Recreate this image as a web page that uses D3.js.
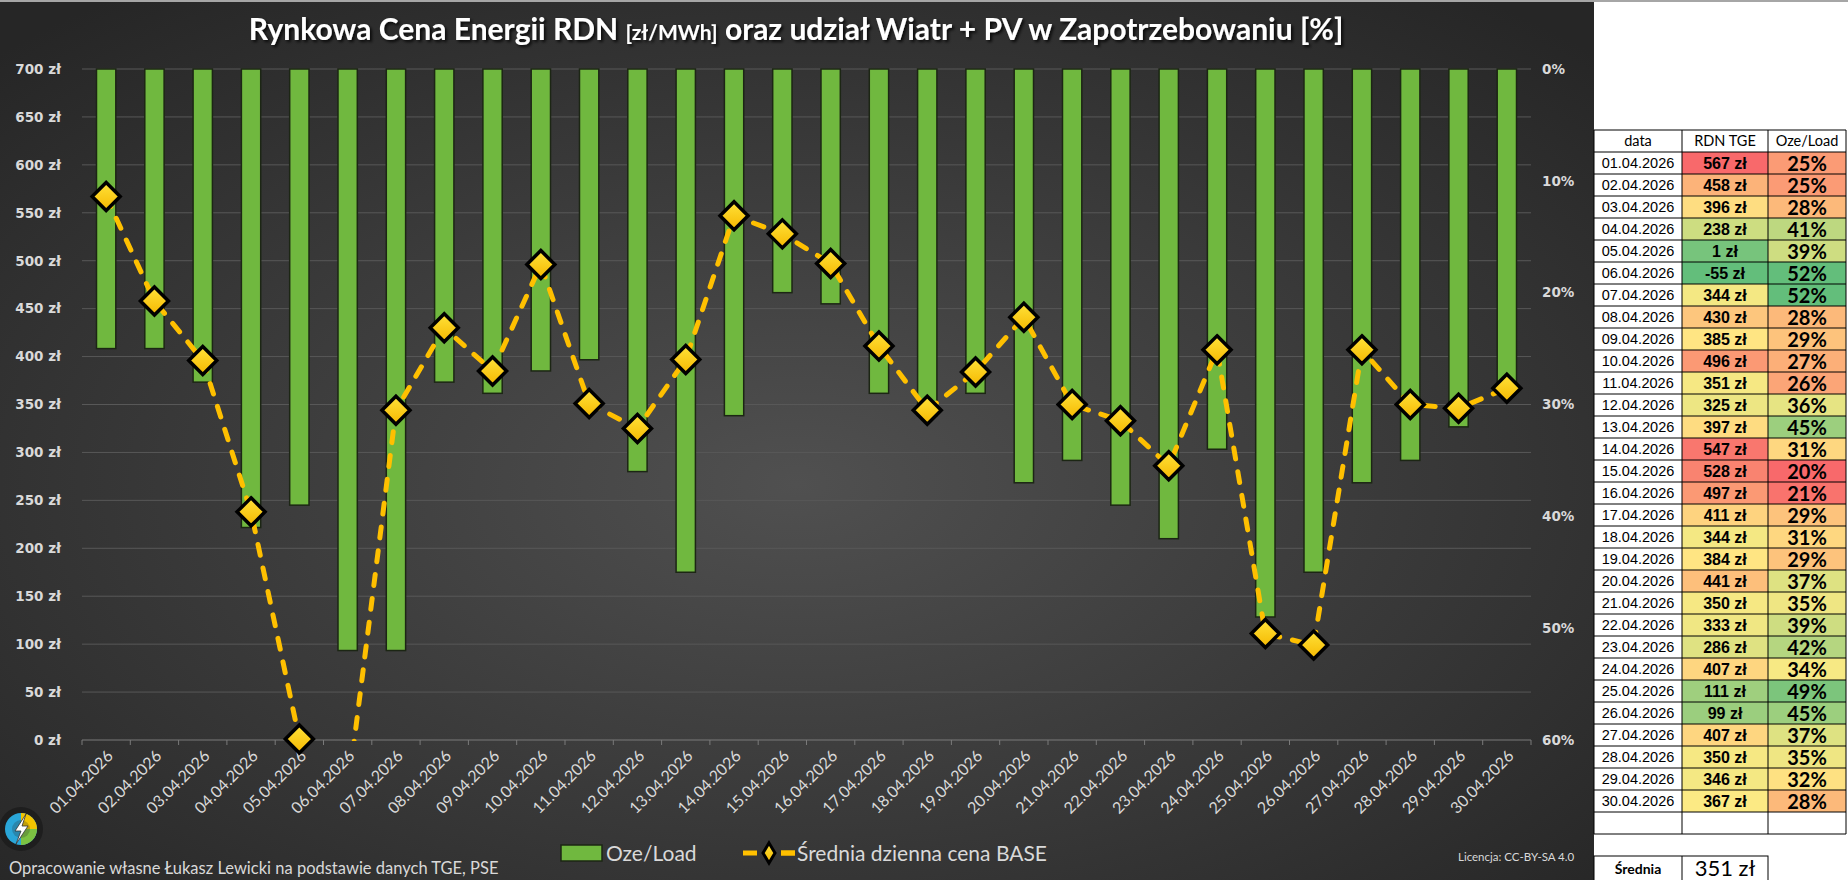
<!DOCTYPE html>
<html>
<head>
<meta charset="utf-8">
<script src="https://cdn.jsdelivr.net/npm/d3@7"></script>
<style>
  body { margin: 0; background: #fff; }
  svg { display: block; }
</style>
</head>
<body>
<div class="canva"></div>
<script>
// daily data, April 2026
const dates = ["01.04.2026","02.04.2026","03.04.2026","04.04.2026","05.04.2026","06.04.2026","07.04.2026","08.04.2026","09.04.2026","10.04.2026",
  "11.04.2026","12.04.2026","13.04.2026","14.04.2026","15.04.2026","16.04.2026","17.04.2026","18.04.2026","19.04.2026","20.04.2026",
  "21.04.2026","22.04.2026","23.04.2026","24.04.2026","25.04.2026","26.04.2026","27.04.2026","28.04.2026","29.04.2026","30.04.2026"];
const prices = [567, 458, 396, 238, 1, -55, 344, 430, 385, 496, 351, 325, 397, 547, 528, 497, 411, 344, 384, 441, 350, 333, 286, 407, 111, 99, 407, 350, 346, 367];
const ozeShare = [25, 25, 28, 41, 39, 52, 52, 28, 29, 27, 26, 36, 45, 31, 20, 21, 29, 31, 29, 37, 35, 39, 42, 34, 49, 45, 37, 35, 32, 28];
const priceTicks = [0, 50, 100, 150, 200, 250, 300, 350, 400, 450, 500, 550, 600, 650, 700];
const pctTicks = [0, 10, 20, 30, 40, 50, 60];

const W = 1848, H = 880;
const plot = {left: 82, right: 1531, top: 69, bottom: 740};

const svg = d3.select(".canva").append("svg")
    .attr("width", W)
    .attr("height", H);

const defs = svg.append("defs");
const bg = defs.append("radialGradient").attr("id", "bg")
    .attr("cx", "50%").attr("cy", "55%").attr("r", "70%");
bg.append("stop").attr("offset", "0%").attr("stop-color", "#505050");
bg.append("stop").attr("offset", "100%").attr("stop-color", "#262626");

const gold = defs.append("linearGradient").attr("id", "gold")
    .attr("x1", 0).attr("y1", 0).attr("x2", 0).attr("y2", 1);
gold.append("stop").attr("offset", "0%").attr("stop-color", "#ffe23a");
gold.append("stop").attr("offset", "100%").attr("stop-color", "#f5b800");

const shadow = defs.append("filter").attr("id", "shadow")
    .attr("x", "-10%").attr("y", "-30%").attr("width", "120%").attr("height", "160%");
shadow.append("feDropShadow").attr("dx", 2).attr("dy", 2).attr("stdDeviation", 1.5)
    .attr("flood-color", "#000").attr("flood-opacity", 0.8);

defs.append("clipPath").attr("id", "plotclip")
  .append("rect")
    .attr("x", plot.left - 20).attr("y", plot.top - 20)
    .attr("width", plot.right - plot.left + 40)
    .attr("height", plot.bottom - plot.top + 21);

// background of chart area
svg.append("rect").attr("x", 0).attr("y", 0).attr("width", 1594).attr("height", H).attr("fill", "url(#bg)");
svg.append("rect").attr("x", 0).attr("y", 0).attr("width", W).attr("height", 2).attr("fill", "#a6a6a6");

// scales
const x = d3.scaleBand()
    .domain(dates)
    .range([plot.left, plot.right])
    .paddingInner(0.6)
    .paddingOuter(0.3);
const y = d3.scaleLinear().domain([0, 700]).range([plot.bottom, plot.top]);
const y2 = d3.scaleLinear().domain([0, 60]).range([plot.top, plot.bottom]);

// gridlines
svg.append("g")
  .selectAll("line")
  .data(priceTicks)
  .join("line")
    .attr("x1", plot.left).attr("x2", plot.right)
    .attr("y1", d => y(d)).attr("y2", d => y(d))
    .attr("stroke", d => d === 0 ? "#7a7a7a" : "#585858")
    .attr("stroke-width", 1);

// bottom axis ticks at category boundaries
const bounds = d3.range(dates.length + 1).map(i => plot.left + i * x.step());
svg.append("g")
  .selectAll("line")
  .data(bounds)
  .join("line")
    .attr("x1", d => d).attr("x2", d => d)
    .attr("y1", plot.bottom).attr("y2", plot.bottom + 5)
    .attr("stroke", "#7a7a7a");

// left axis labels
const yAxis = svg.append("g")
    .attr("transform", `translate(${plot.left - 18},0)`)
    .call(d3.axisLeft(y).tickValues(priceTicks).tickSize(0).tickFormat(d => d + " zł"));
yAxis.select(".domain").remove();
yAxis.selectAll("text")
    .attr("fill", "#d9d9d9")
    .attr("font-family", "DejaVu Sans")
    .attr("font-weight", "bold")
    .attr("font-size", 13.5);

// right axis labels
const y2Axis = svg.append("g")
    .attr("transform", `translate(${plot.right + 8},0)`)
    .call(d3.axisRight(y2).tickValues(pctTicks).tickSize(0).tickFormat(d => d + "%"));
y2Axis.select(".domain").remove();
y2Axis.selectAll("text")
    .attr("fill", "#d9d9d9")
    .attr("font-family", "DejaVu Sans")
    .attr("font-weight", "bold")
    .attr("font-size", 13.5);

// x labels
svg.append("g")
  .selectAll("text")
  .data(dates)
  .join("text")
    .attr("transform", d => `translate(${x(d) + x.bandwidth() / 2 + 8},757) rotate(-45)`)
    .attr("text-anchor", "end")
    .attr("fill", "#d9d9d9")
    .attr("font-family", "Lato")
    .attr("font-size", 16)
    .text(d => d);

// bars: Oze/Load hanging from 0% on the reversed right axis
svg.append("g")
  .selectAll("rect")
  .data(ozeShare)
  .join("rect")
    .attr("x", (d, i) => x(dates[i]))
    .attr("y", y2(0))
    .attr("width", x.bandwidth())
    .attr("height", d => y2(d) - y2(0))
    .attr("fill", "#70b83f")
    .attr("stroke", "#1c2614")
    .attr("stroke-width", 1.5);

// price line
const pts = prices.map((v, i) => ({d: dates[i], v: v}));
const line = d3.line()
    .x(p => x(p.d) + x.bandwidth() / 2)
    .y(p => y(p.v));

svg.append("path")
    .datum(pts)
    .attr("clip-path", "url(#plotclip)")
    .attr("d", line)
    .attr("fill", "none")
    .attr("stroke", "#ffc000")
    .attr("stroke-width", 5)
    .attr("stroke-linecap", "round")
    .attr("stroke-dasharray", "11 13");

const diamond = "M0,-14L14,0L0,14L-14,0Z";
svg.append("g")
  .selectAll("path")
  .data(pts.filter(p => p.v >= 0))
  .join("path")
    .attr("transform", p => `translate(${x(p.d) + x.bandwidth() / 2},${y(p.v)})`)
    .attr("d", diamond)
    .attr("fill", "url(#gold)")
    .attr("stroke", "#000")
    .attr("stroke-width", 3.5)
    .attr("stroke-linejoin", "miter");

// title
const title = svg.append("text")
    .attr("x", 796).attr("y", 40)
    .attr("text-anchor", "middle")
    .attr("fill", "#fff")
    .attr("font-family", "Lato")
    .attr("font-weight", "bold")
    .attr("font-size", 30)
    .attr("filter", "url(#shadow)");
title.append("tspan").text("Rynkowa Cena Energii RDN ");
title.append("tspan").attr("font-size", 21).text("[zł/MWh]");
title.append("tspan").text(" oraz udział Wiatr + PV w Zapotrzebowaniu [%]");

// legend
const leg = svg.append("g");
leg.append("rect")
    .attr("x", 561).attr("y", 845).attr("width", 41).attr("height", 16)
    .attr("fill", "#70b83f").attr("stroke", "#1c2614").attr("stroke-width", 1.5);
leg.append("text")
    .attr("x", 606).attr("y", 861)
    .attr("fill", "#d9d9d9").attr("font-family", "Lato").attr("font-size", 21)
    .text("Oze/Load");
leg.append("line")
    .attr("x1", 743).attr("x2", 795).attr("y1", 853).attr("y2", 853)
    .attr("stroke", "#ffc000").attr("stroke-width", 5).attr("stroke-dasharray", "14 24");
leg.append("line")
    .attr("x1", 781).attr("x2", 795).attr("y1", 853).attr("y2", 853)
    .attr("stroke", "#ffc000").attr("stroke-width", 5);
leg.append("path")
    .attr("transform", "translate(769,853)")
    .attr("d", "M0,-10L6,0L0,10L-6,0Z")
    .attr("fill", "url(#gold)").attr("stroke", "#000").attr("stroke-width", 3);
leg.append("text")
    .attr("x", 797).attr("y", 861)
    .attr("fill", "#d9d9d9").attr("font-family", "Lato").attr("font-size", 21)
    .text("Średnia dzienna cena BASE");

// footer
svg.append("text")
    .attr("x", 9).attr("y", 874)
    .attr("fill", "#d9d9d9").attr("font-family", "Lato").attr("font-size", 16.5)
    .text("Opracowanie własne Łukasz Lewicki na podstawie danych TGE, PSE");
svg.append("text")
    .attr("x", 1458).attr("y", 861)
    .attr("fill", "#d9d9d9").attr("font-family", "Lato").attr("font-size", 11.5)
    .text("Licencja: CC-BY-SA 4.0");

// logo
const logo = svg.append("g").attr("transform", "translate(21,829)");
logo.append("circle").attr("r", 22).attr("fill", "#1e1e1e");
logo.append("circle").attr("r", 16).attr("fill", "#2aa6d8");
logo.append("path").attr("d", "M0,-16A16,16 0 0,1 16,0L0,0Z").attr("fill", "#f2c400");
logo.append("path").attr("d", "M16,0A16,16 0 0,1 0,16L0,0Z").attr("fill", "#7cc242");
logo.append("circle").attr("r", 9).attr("fill", "#2b2b2b").attr("opacity", 0.25);
logo.append("path")
    .attr("d", "M5,-15L-6,2L0,2L-5,15L7,-3L1,-3Z")
    .attr("fill", "#fff").attr("stroke", "#333").attr("stroke-width", 0.8);

// table on the right
const cols = [1594, 1682, 1768, 1846];
const rowH = 22;
const top0 = 130;
const tbl = svg.append("g");
const priceColor = d3.scaleLinear()
    .domain([d3.min(prices), d3.median(prices), d3.max(prices)])
    .range(["#63be7b", "#ffeb84", "#f8696b"]);
const shareColor = d3.scaleLinear()
    .domain([d3.min(ozeShare), d3.median(ozeShare), d3.max(ozeShare)])
    .range(["#f8696b", "#ffeb84", "#63be7b"]);

const headers = ["data", "RDN TGE", "Oze/Load"];
headers.forEach((h, c) => {
  tbl.append("text")
      .attr("x", (cols[c] + cols[c + 1]) / 2).attr("y", top0 + 16)
      .attr("text-anchor", "middle")
      .attr("font-family", "Lato").attr("font-size", 14.5).attr("fill", "#000")
      .text(h);
});

const rows = tbl.selectAll("g.row")
  .data(dates)
  .join("g")
    .attr("class", "row")
    .attr("transform", (d, i) => `translate(0,${top0 + rowH * (i + 1)})`);
rows.append("rect")
    .attr("x", cols[1]).attr("width", cols[2] - cols[1]).attr("height", rowH)
    .attr("fill", (d, i) => priceColor(prices[i]));
rows.append("rect")
    .attr("x", cols[2]).attr("width", cols[3] - cols[2]).attr("height", rowH)
    .attr("fill", (d, i) => shareColor(ozeShare[i]));
rows.append("text")
    .attr("x", (cols[0] + cols[1]) / 2).attr("y", 16)
    .attr("text-anchor", "middle")
    .attr("font-family", "Liberation Sans").attr("font-size", 14.5).attr("fill", "#000")
    .text(d => d);
rows.append("text")
    .attr("x", (cols[1] + cols[2]) / 2).attr("y", 16.5)
    .attr("text-anchor", "middle")
    .attr("font-family", "Liberation Sans").attr("font-weight", "bold").attr("font-size", 16).attr("fill", "#000")
    .text((d, i) => prices[i] + " zł");
rows.append("text")
    .attr("x", (cols[2] + cols[3]) / 2).attr("y", 18.5)
    .attr("text-anchor", "middle")
    .attr("font-family", "Lato").attr("font-weight", "bold").attr("font-size", 20).attr("fill", "#000")
    .text((d, i) => ozeShare[i] + "%");

// grid lines of the table
const nRows = dates.length + 2;
d3.range(nRows + 1).forEach(r => {
  tbl.append("line")
      .attr("x1", cols[0]).attr("x2", cols[3])
      .attr("y1", top0 + r * rowH).attr("y2", top0 + r * rowH)
      .attr("stroke", "#000").attr("stroke-width", 1);
});
cols.forEach(cx => {
  tbl.append("line")
      .attr("x1", cx).attr("x2", cx)
      .attr("y1", top0).attr("y2", top0 + nRows * rowH)
      .attr("stroke", "#000").attr("stroke-width", 1);
});

// average box
const avgTop = 856;
tbl.append("rect")
    .attr("x", cols[0]).attr("y", avgTop).attr("width", cols[2] - cols[0]).attr("height", 30)
    .attr("fill", "#fff").attr("stroke", "#000");
tbl.append("line")
    .attr("x1", cols[1]).attr("x2", cols[1]).attr("y1", avgTop).attr("y2", H)
    .attr("stroke", "#000");
tbl.append("text")
    .attr("x", (cols[0] + cols[1]) / 2).attr("y", avgTop + 18)
    .attr("text-anchor", "middle")
    .attr("font-family", "Lato").attr("font-weight", "bold").attr("font-size", 14).attr("fill", "#000")
    .text("Średnia");
tbl.append("text")
    .attr("x", (cols[1] + cols[2]) / 2).attr("y", avgTop + 20)
    .attr("text-anchor", "middle")
    .attr("font-family", "Lato").attr("font-size", 22).attr("fill", "#000")
    .text(Math.round(d3.mean(prices)) + " zł");
</script>
</body>
</html>
